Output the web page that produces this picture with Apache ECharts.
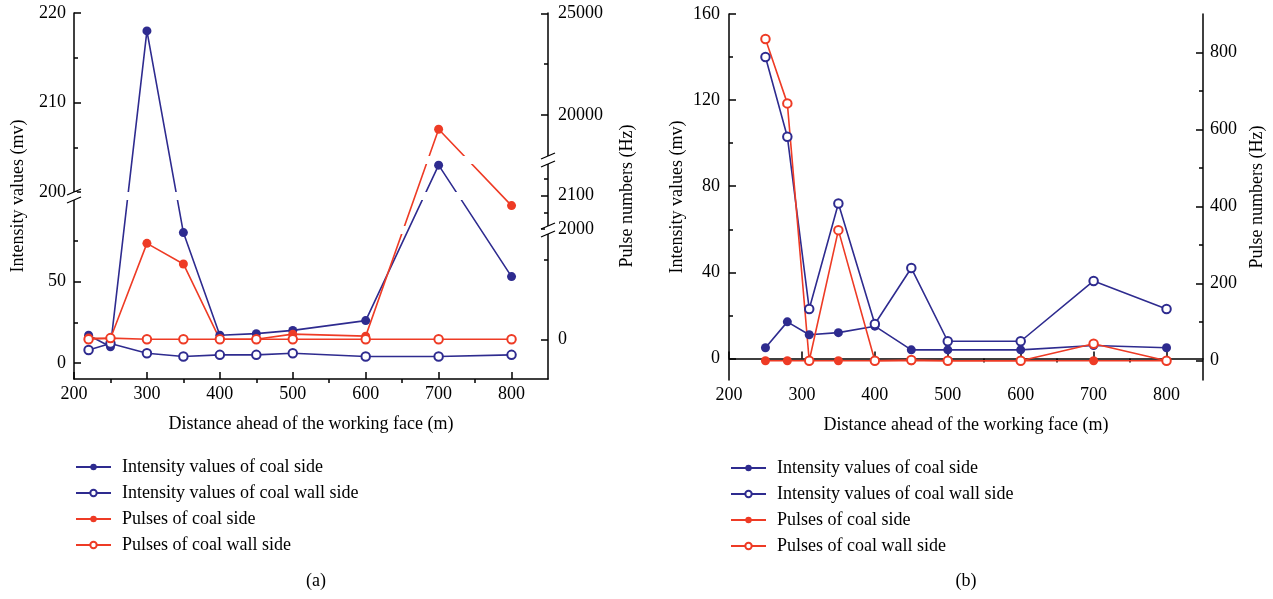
<!DOCTYPE html>
<html>
<head>
<meta charset="utf-8">
<script src="https://cdn.jsdelivr.net/npm/echarts@6/dist/echarts.min.js"></script>
<style>
  html, body { margin: 0; padding: 0; background: #fff; }
  #chart { width: 1273px; height: 599px; }
</style>
</head>
<body>
<div id="chart"></div>
<script>
// ---- panel (a) ----
const distA = [220, 250, 300, 350, 400, 450, 500, 600, 700, 800];
const intensityCoalA = [17, 10, 218, 80, 17, 18, 20, 26, 203, 53];
const intensityWallA = [8, 12, 6, 4, 5, 5, 6, 4, 4, 5];
const pulseCoalA = [15, 10, 1210, 950, 0, 0, 65, 40, 19300, 2070];
const pulseWallA = [0, 15, 0, 0, 0, 0, 0, 0, 0, 0];
const leftTicksA = [0, 50, 200, 210, 220];
const leftMinorA = [25, 75, 205, 215];
const rightTicksA = [0, 2000, 2100, 20000, 25000];
const rightMinorA = [1000, 2050, 2150, 22500];

// ---- panel (b) ----
const distB = [250, 280, 310, 350, 400, 450, 500, 600, 700, 800];
const intensityCoalB = [5, 17, 11, 12, 15, 4, 4, 4, 6, 5];
const intensityWallB = [140, 103, 23, 72, 16, 42, 8, 8, 36, 23];
const pulseCoalB = [0, 0, 0, 0, 0, 0, 0, 0, 0, 0];
const pulseWallB = [835, 668, 0, 339, 0, 2, 0, 0, 44, 0];
const leftTicksB = [0, 40, 80, 120, 160];
const leftMinorB = [20, 60, 100, 140];
const rightTicksB = [0, 200, 400, 600, 800];
const rightMinorB = [100, 300, 500, 700];

const xTicks = [200, 300, 400, 500, 600, 700, 800];
const xMinor = [250, 350, 450, 550, 650, 750];

const names = [
  'Intensity values of coal side',
  'Intensity values of coal wall side',
  'Pulses of coal side',
  'Pulses of coal wall side'
];

const BLUE = '#2e2b8f';
const RED = '#ee3b25';
const FONT = 'Liberation Serif';
const FS = 18;

// plot boxes (px)
const A = { left: 74, top: 13, width: 474, height: 366 };
const B = { left: 729, top: 14, width: 474, height: 366 };

// (a) has broken y axes: map a value to its height above the plot bottom
function leftA(v) {
  return v < 150 ? 16 + v * 1.63 : 187 + (v - 200) * 8.95;
}
function rightA(v) {
  if (v < 1500) return 39.7 + v * 0.0793;
  if (v < 5000) return 150 + (v - 2000) * 0.334;
  return 264 + (v - 20000) * 0.02034;
}
const leftBandA = [179, 187];
const rightBandsA = [[145, 153], [215, 223]];

function labelBack(ticks, fn) {
  return val => {
    const t = ticks.find(t => Math.abs(fn(t) - val) < 0.01);
    return t === undefined ? '' : String(t);
  };
}

const labelStyle = { color: '#000', fontFamily: FONT, fontSize: FS };
const lineStyle = { color: '#000', width: 1.5 };

function xAxes(grid) {
  return [
    {
      gridIndex: grid, type: 'value', min: 200, max: 850,
      axisLine: { lineStyle },
      axisTick: { inside: true, length: 7, lineStyle, customValues: xTicks },
      axisLabel: Object.assign({ margin: 6, customValues: xTicks }, labelStyle),
      splitLine: { show: false },
      name: 'Distance ahead of the working face (m)',
      nameLocation: 'middle', nameGap: 36,
      nameTextStyle: labelStyle
    },
    {
      gridIndex: grid, type: 'value', min: 200, max: 850,
      axisLine: { show: false },
      axisTick: { inside: true, length: 4, lineStyle, customValues: xMinor },
      axisLabel: { show: false },
      splitLine: { show: false }
    }
  ];
}

function yPair(grid, pos, min, max, ticks, minor, fmt, name, nameGap, margin) {
  return [
    {
      gridIndex: grid, type: 'value', position: pos, min, max,
      axisLine: { show: true, lineStyle },
      axisTick: { inside: true, length: 7, lineStyle, customValues: ticks },
      axisLabel: Object.assign({ margin, customValues: ticks, formatter: fmt }, labelStyle),
      splitLine: { show: false },
      name, nameLocation: 'middle', nameGap, nameRotate: 90,
      nameTextStyle: labelStyle
    },
    {
      gridIndex: grid, type: 'value', position: pos, min, max,
      axisLine: { show: false },
      axisTick: { inside: true, length: 4, lineStyle, customValues: minor },
      axisLabel: { show: false },
      splitLine: { show: false }
    }
  ];
}

const yAxes = [].concat(
  yPair(0, 'left', 0, A.height, leftTicksA.map(leftA), leftMinorA.map(leftA),
    labelBack(leftTicksA, leftA), 'Intensity values (mv)', 47, 8),
  yPair(0, 'right', 0, A.height, rightTicksA.map(rightA), rightMinorA.map(rightA),
    labelBack(rightTicksA, rightA), 'Pulse numbers (Hz)', 70, 10),
  yPair(1, 'left', -10, 160, leftTicksB, leftMinorB, null, 'Intensity values (mv)', 43, 9),
  yPair(1, 'right', -50, 900, rightTicksB, rightMinorB, null, 'Pulse numbers (Hz)', 45, 7)
);

// in (a) the line colour comes from visualMap so that the breaks cut the lines
function line(name, color, filled, xIdx, yIdx, data, mapped) {
  const s = {
    name, type: 'line', xAxisIndex: xIdx, yAxisIndex: yIdx, data,
    symbol: filled ? 'circle' : 'emptyCircle',
    symbolSize: filled ? 9 : 8.5,
    showAllSymbol: true,
    lineStyle: { width: 1.6 },
    itemStyle: { color, borderColor: color, borderWidth: filled ? 0 : 1 },
    emphasis: { disabled: true },
    animation: false
  };
  if (!mapped) s.lineStyle.color = color;
  return s;
}

function pairs(xs, ys, fn) {
  return xs.map((x, i) => [x, fn ? fn(ys[i]) : ys[i]]);
}

const series = [
  line(names[0], BLUE, true, 0, 0, pairs(distA, intensityCoalA, leftA), true),
  line(names[1], BLUE, false, 0, 0, pairs(distA, intensityWallA, leftA), true),
  line(names[2], RED, true, 0, 2, pairs(distA, pulseCoalA, rightA), true),
  line(names[3], RED, false, 0, 2, pairs(distA, pulseWallA, rightA), true),
  line(names[0], BLUE, true, 2, 4, pairs(distB, intensityCoalB)),
  line(names[1], BLUE, false, 2, 4, pairs(distB, intensityWallB)),
  line(names[2], RED, true, 2, 6, pairs(distB, pulseCoalB)),
  line(names[3], RED, false, 2, 6, pairs(distB, pulseWallB))
];

// break marks on the axis lines of (a)
function breakMark(x, band) {
  const yTop = A.top + A.height - band[1];
  const yBot = A.top + A.height - band[0];
  const st = { stroke: '#000', lineWidth: 1.3 };
  return [
    { type: 'rect', z: 20, shape: { x: x - 3, y: yTop, width: 6, height: yBot - yTop }, style: { fill: '#fff' } },
    { type: 'line', z: 21, shape: { x1: x - 7, y1: yTop + 3, x2: x + 7, y2: yTop - 3 }, style: st },
    { type: 'line', z: 21, shape: { x1: x - 7, y1: yBot + 3, x2: x + 7, y2: yBot - 3 }, style: st }
  ];
}

const graphic = [].concat(
  breakMark(A.left, leftBandA),
  breakMark(A.left + A.width, rightBandsA[0]),
  breakMark(A.left + A.width, rightBandsA[1]),
  [
    { type: 'text', x: 316, y: 581, style: { text: '(a)', fill: '#000', font: FS + 'px ' + FONT, textAlign: 'center', textVerticalAlign: 'middle' } },
    { type: 'text', x: 966, y: 581, style: { text: '(b)', fill: '#000', font: FS + 'px ' + FONT, textAlign: 'center', textVerticalAlign: 'middle' } }
  ]
);

const T = 'rgba(0,0,0,0)';
const visualMap = [
  {
    show: false, type: 'piecewise', seriesIndex: [0, 1], dimension: 1,
    pieces: [
      { lt: leftBandA[0], color: BLUE },
      { gte: leftBandA[0], lte: leftBandA[1], color: T },
      { gt: leftBandA[1], color: BLUE }
    ]
  },
  {
    show: false, type: 'piecewise', seriesIndex: [2, 3], dimension: 1,
    pieces: [
      { lt: rightBandsA[0][0], color: RED },
      { gte: rightBandsA[0][0], lte: rightBandsA[0][1], color: T },
      { gt: rightBandsA[0][1], lt: rightBandsA[1][0], color: RED },
      { gte: rightBandsA[1][0], lte: rightBandsA[1][1], color: T },
      { gt: rightBandsA[1][1], color: RED }
    ]
  }
];

const legendBase = {
  data: names, orient: 'vertical', itemWidth: 35, itemHeight: 8, itemGap: 8,
  textStyle: { color: '#000', fontFamily: FONT, fontSize: FS, padding: [0, 0, 0, 6] },
  selectedMode: false
};

const chart = echarts.init(document.getElementById('chart'), null, { renderer: 'canvas' });
chart.setOption({
  backgroundColor: '#fff',
  animation: false,
  grid: [
    Object.assign({ containLabel: false, outerBoundsMode: 'none' }, A),
    Object.assign({ containLabel: false, outerBoundsMode: 'none' }, B)
  ],
  xAxis: xAxes(0).concat(xAxes(1)),
  yAxis: yAxes,
  legend: [
    Object.assign({ left: 70, top: 453 }, legendBase),
    Object.assign({ left: 725, top: 454 }, legendBase)
  ],
  visualMap,
  graphic,
  series
});
</script>
</body>
</html>
